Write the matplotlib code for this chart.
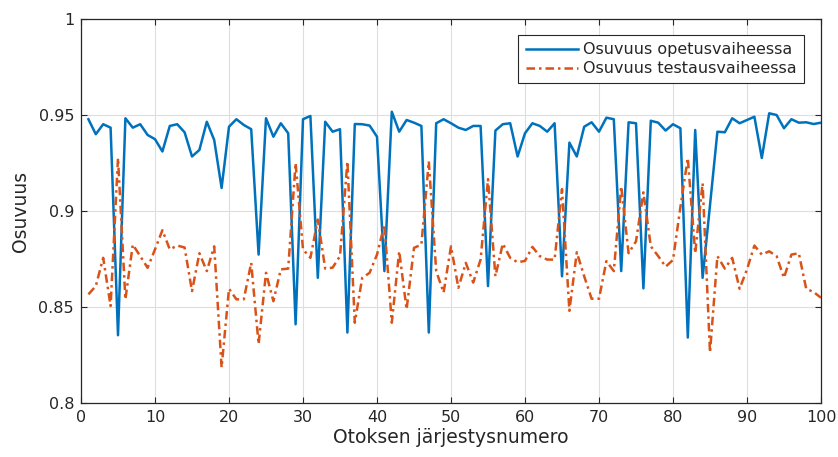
import matplotlib
matplotlib.use("Agg")
import matplotlib.pyplot as plt
import numpy as np

plt.rcParams['font.family'] = ['DejaVu Sans']

# Sample order numbers and accuracies for the training and test phases
sample_no = list(range(1, 101))

train_acc = [
    0.9478, 0.9400, 0.9452, 0.9434, 0.8353, 0.9483, 0.9434, 0.9452, 0.9396, 0.9374,
    0.9310, 0.9443, 0.9452, 0.9410, 0.9284, 0.9318, 0.9465, 0.9370, 0.9120, 0.9439,
    0.9478, 0.9448, 0.9426, 0.8773, 0.9483, 0.9387, 0.9457, 0.9405, 0.8410, 0.9478,
    0.9495, 0.8652, 0.9465, 0.9413, 0.9426, 0.8367, 0.9453, 0.9452, 0.9445, 0.9387,
    0.8687, 0.9517, 0.9413, 0.9474, 0.9460, 0.9443, 0.8367, 0.9457, 0.9478, 0.9457,
    0.9434, 0.9422, 0.9443, 0.9443, 0.8609, 0.9419, 0.9452, 0.9457, 0.9284, 0.9405,
    0.9457, 0.9443, 0.9413, 0.9457, 0.8660, 0.9356, 0.9284, 0.9439, 0.9462, 0.9413,
    0.9486, 0.9478, 0.8687, 0.9462, 0.9457, 0.8597, 0.9470, 0.9460, 0.9419, 0.9452,
    0.9431, 0.8341, 0.9422, 0.8652, 0.9030, 0.9413, 0.9410, 0.9483, 0.9457, 0.9474,
    0.9491, 0.9276, 0.9509, 0.9500, 0.9431, 0.9478, 0.9460, 0.9462, 0.9453, 0.9460,
]

test_acc = [
    0.8566, 0.8609, 0.8756, 0.8505, 0.9276, 0.8540, 0.8825, 0.8765, 0.8704, 0.8800,
    0.8900, 0.8800, 0.8820, 0.8810, 0.8583, 0.8780, 0.8687, 0.8816, 0.8185, 0.8595,
    0.8540, 0.8540, 0.8730, 0.8307, 0.8678, 0.8530, 0.8696, 0.8700, 0.9250, 0.8800,
    0.8756, 0.8955, 0.8700, 0.8705, 0.8765, 0.9258, 0.8418, 0.8652, 0.8678, 0.8773,
    0.8929, 0.8418, 0.8790, 0.8488, 0.8808, 0.8825, 0.9258, 0.8687, 0.8575, 0.8816,
    0.8600, 0.8730, 0.8627, 0.8747, 0.9166, 0.8660, 0.8830, 0.8756, 0.8733, 0.8740,
    0.8813, 0.8765, 0.8747, 0.8747, 0.9114, 0.8480, 0.8785, 0.8660, 0.8543, 0.8543,
    0.8739, 0.8687, 0.9128, 0.8780, 0.8842, 0.9097, 0.8816, 0.8765, 0.8710, 0.8745,
    0.9020, 0.9276, 0.8780, 0.9145, 0.8263, 0.8765, 0.8700, 0.8756, 0.8595, 0.8696,
    0.8820, 0.8773, 0.8790, 0.8765, 0.8652, 0.8773, 0.8780, 0.8595, 0.8578, 0.8548,
]

x_ticks = list(range(0, 101, 10))
y_ticks = [0.8, 0.85, 0.9, 0.95, 1.0]
y_tick_labels = ['0.8', '0.85', '0.9', '0.95', '1']

label_train = 'Osuvuus opetusvaiheessa'
label_test = 'Osuvuus testausvaiheessa'
x_label = 'Otoksen järjestysnumero'
y_label = 'Osuvuus'

axis_col = '#262626'
blue = '#0072BD'
orange = '#D95319'

fig = plt.figure(figsize=(8.38, 4.57), dpi=100)
ax = fig.add_axes([81 / 838, 1 - 403 / 457, 740 / 838, 384 / 457])

ax.plot(sample_no, train_acc, color=blue, lw=1.8, label=label_train, zorder=3)
ax.plot(sample_no, test_acc, color=orange, lw=1.8,
        linestyle=(0, (3.4, 1.6, 1.0, 1.6)), label=label_test, zorder=3)

ax.set_xlim(0, 100)
ax.set_ylim(0.8, 1.0)
ax.set_xticks(x_ticks)
ax.set_yticks(y_ticks)
ax.set_yticklabels(y_tick_labels)

ax.grid(True, color='#dedede', lw=0.8, zorder=0)
ax.set_axisbelow(True)

for s in ax.spines.values():
    s.set_color(axis_col)
    s.set_linewidth(0.9)

ax.tick_params(axis='both', direction='in', top=True, right=True,
               length=4.5, width=0.8, color=axis_col,
               labelcolor=axis_col, labelsize=11.5, pad=5)

ax.set_xlabel(x_label, fontsize=13.5, color=axis_col, labelpad=2)
ax.set_ylabel(y_label, fontsize=13.5, color=axis_col, labelpad=6)

leg = ax.legend(loc='upper right', bbox_to_anchor=(0.977, 0.958),
                borderaxespad=0, fontsize=11.5, frameon=True, fancybox=False,
                framealpha=1, edgecolor=axis_col, handlelength=3.3,
                handletextpad=0.3, borderpad=0.45, labelspacing=0.25)
leg.get_frame().set_linewidth(0.8)
for t in leg.get_texts():
    t.set_color(axis_col)

fig.savefig('out.png', dpi=100)
